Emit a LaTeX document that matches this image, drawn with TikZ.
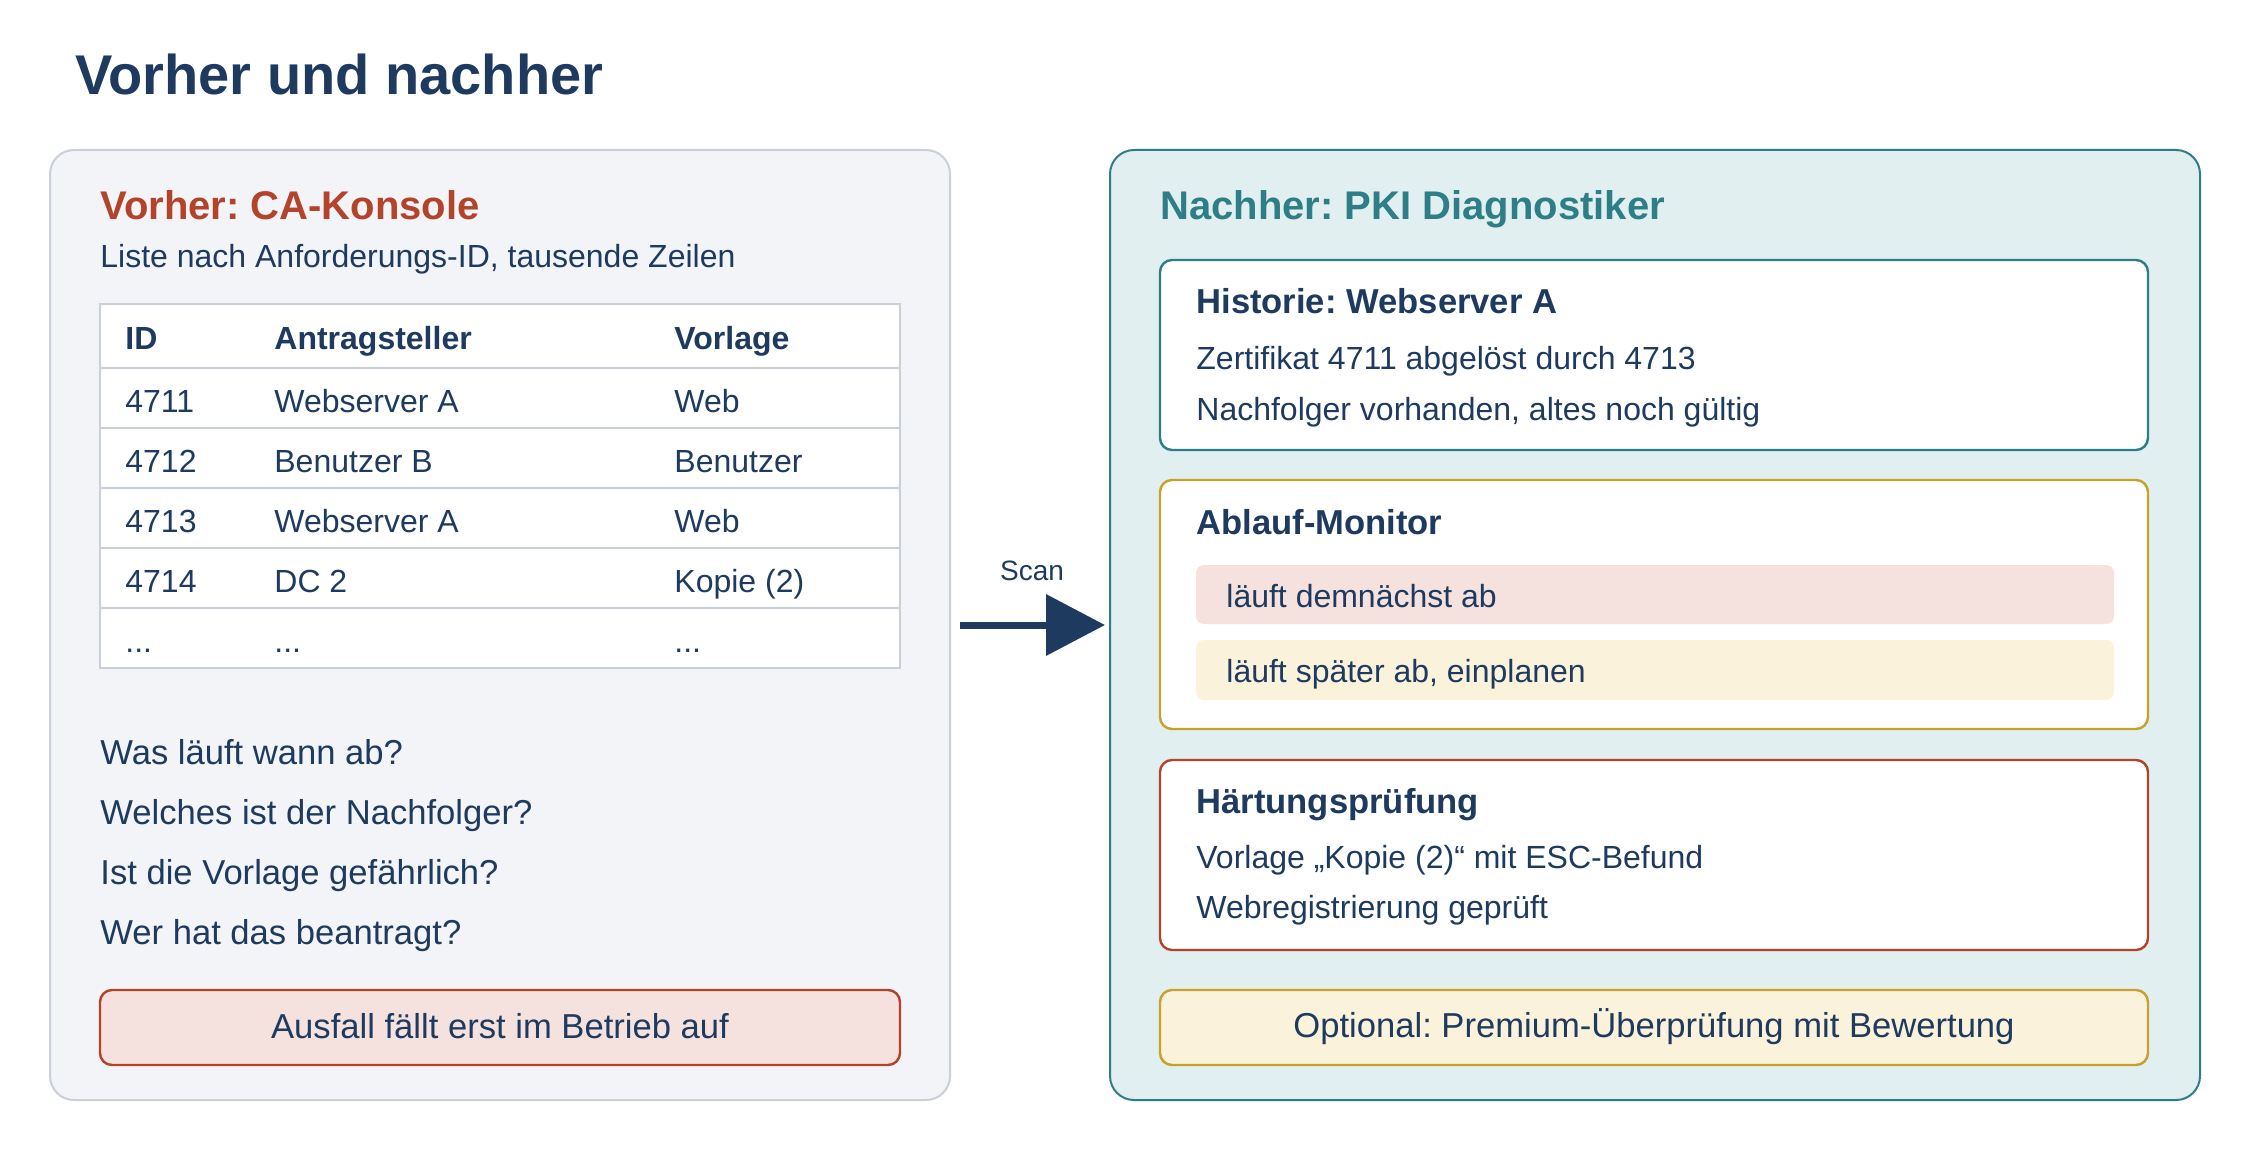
\documentclass[tikz,border=0pt]{standalone}
\usepackage{fontspec}
\setmainfont{Liberation Sans}
\usetikzlibrary{arrows.meta}
\frenchspacing
\definecolor{navy}{RGB}{31,58,95}
\definecolor{rust}{RGB}{180,67,43}
\definecolor{teal}{RGB}{46,126,135}
\definecolor{gold}{RGB}{201,160,42}
\definecolor{greyline}{RGB}{201,207,216}
\definecolor{greyfill}{RGB}{242,244,247}
\definecolor{tealfill}{RGB}{226,239,240}
\definecolor{redfill}{RGB}{245,226,222}
\definecolor{yellowfill}{RGB}{251,242,220}

\begin{document}
\begin{tikzpicture}[x=1pt,y=-1pt,
  title/.style={font=\bfseries\fontsize{28}{34}\selectfont, text=navy, anchor=base west, inner sep=0pt},
  head/.style={font=\bfseries\fontsize{20}{24}\selectfont, anchor=base west, inner sep=0pt},
  small/.style={font=\fontsize{16}{19}\selectfont, text=navy, anchor=base west, inner sep=0pt},
  smallb/.style={small, font=\bfseries\fontsize{16}{19}\selectfont},
  body/.style={font=\fontsize{17.3}{21}\selectfont, text=navy, anchor=base west, inner sep=0pt},
  bodyb/.style={body, font=\bfseries\fontsize{17.3}{21}\selectfont},
  panel/.style={rounded corners=12pt, line width=1pt, inner sep=0pt, outer sep=0pt},
  card/.style={fill=white, rounded corners=6pt, line width=1.2pt},
  pill/.style={rounded corners=4pt}]
\useasboundingbox (0,0) rectangle (1125,575);

% Title
\node[title] (titel) at (37.5,47.5) {Vorher und nachher};

%Shape: Panel links
\node[panel, draw=greyline, fill=greyfill, minimum width=450pt, minimum height=475pt] (vorher) at (250,312.5) {};
%Shape: Panel rechts
\node[panel, draw=teal, fill=tealfill, minimum width=545pt, minimum height=475pt] (nachher) at (827.5,312.5) {};

% Text Node
\node[head, text=rust] (vtitel) at (50,110) {Vorher: CA-Konsole};
\node[small] (vsub) at (50,134) {Liste nach Anforderungs-ID, tausende Zeilen};

%Shape: Tabelle
\draw[greyline, fill=white, line width=1.2pt] (50,152) rectangle (450,334);
\draw[greyline, line width=1.2pt] (50,184) -- (450,184);
\draw[greyline, line width=1.2pt] (50,214) -- (450,214);
\draw[greyline, line width=1.2pt] (50,244) -- (450,244);
\draw[greyline, line width=1.2pt] (50,274) -- (450,274);
\draw[greyline, line width=1.2pt] (50,304) -- (450,304);

% Text Node
\node[smallb] (hid) at (62.5,175) {ID};
\node[smallb] (hantrag) at (137,175) {Antragsteller};
\node[smallb] (hvorlage) at (337,175) {Vorlage};
\node[small] (id1) at (62.5,206) {4711};
\node[small] (an1) at (137,206) {Webserver A};
\node[small] (vo1) at (337,206) {Web};
\node[small] (id2) at (62.5,236) {4712};
\node[small] (an2) at (137,236) {Benutzer B};
\node[small] (vo2) at (337,236) {Benutzer};
\node[small] (id3) at (62.5,266) {4713};
\node[small] (an3) at (137,266) {Webserver A};
\node[small] (vo3) at (337,266) {Web};
\node[small] (id4) at (62.5,296) {4714};
\node[small] (an4) at (137,296) {DC 2};
\node[small] (vo4) at (337,296) {Kopie (2)};
\node[small] (id5) at (62.5,326) {...};
\node[small] (an5) at (137,326) {...};
\node[small] (vo5) at (337,326) {...};

% Text Node
\node[body] (frage1) at (50,382) {Was läuft wann ab?};
\node[body] (frage2) at (50,412) {Welches ist der Nachfolger?};
\node[body] (frage3) at (50,442) {Ist die Vorlage gefährlich?};
\node[body] (frage4) at (50,472) {Wer hat das beantragt?};

%Shape: Ausfall
\draw[card, draw=rust, fill=redfill] (50,495) rectangle (450,532.5);
\node[body, anchor=base] (ausfall) at (250,519) {Ausfall fällt erst im Betrieb auf};

% Scan arrow
\draw[navy, line width=3.5pt, shorten <=5pt, shorten >=2.5pt, -{Triangle[length=29.5pt, width=30pt]}] (vorher) -- (nachher);
\node[small, font=\fontsize{14}{17}\selectfont, anchor=base] (scan) at (516,290) {Scan};

% Text Node
\node[head, text=teal] (ntitel) at (580,110) {Nachher: PKI Diagnostiker};

%Shape: Historie
\draw[card, draw=teal] (580,130) rectangle (1074,225);
\node[bodyb] (histhead) at (598,157) {Historie: Webserver A};
\node[small] (hist1) at (598,185) {Zertifikat 4711 abgelöst durch 4713};
\node[small] (hist2) at (598,210.5) {Nachfolger vorhanden, altes noch gültig};

%Shape: Ablauf-Monitor
\draw[card, draw=gold] (580,240) rectangle (1074,364.5);
\node[bodyb] (ablhead) at (598,267) {Ablauf-Monitor};
\fill[pill, redfill] (598,282.5) rectangle (1057,312);
\node[small] (abl1) at (613,303.5) {läuft demnächst ab};
\fill[pill, yellowfill] (598,320) rectangle (1057,350);
\node[small] (abl2) at (613,341) {läuft später ab, einplanen};

%Shape: Haertungspruefung
\draw[card, draw=rust] (580,380) rectangle (1074,475);
\node[bodyb] (haerthead) at (598,406.5) {Härtungsprüfung};
\node[small] (haert1) at (598,434) {Vorlage „Kopie (2)“ mit ESC-Befund};
\node[small] (haert2) at (598,459) {Webregistrierung geprüft};

%Shape: Optional
\draw[card, draw=gold, fill=yellowfill] (580,495) rectangle (1074,532.5);
\node[body, anchor=base] (optional) at (827,518.5) {Optional: Premium-Überprüfung mit Bewertung};

\end{tikzpicture}
\end{document}
